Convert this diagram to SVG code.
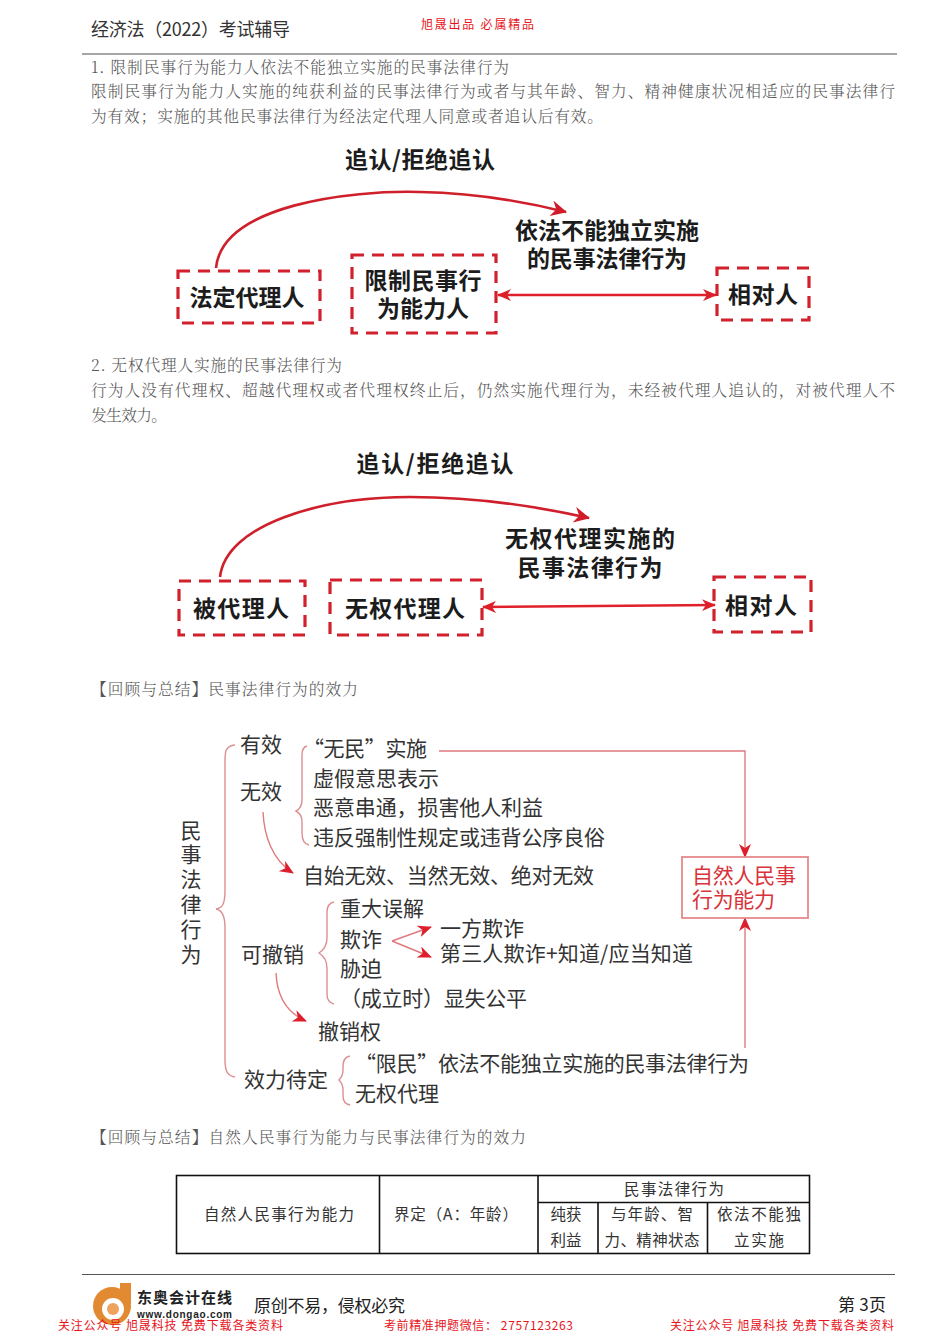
<svg xmlns="http://www.w3.org/2000/svg" width="950" height="1344" viewBox="0 0 950 1344">
<style>
text{font-family:"Noto Sans CJK SC","Liberation Sans",sans-serif;fill:#222}
.body{font-family:"Noto Serif CJK SC","Noto Sans CJK SC",serif;font-size:15.7px;fill:#555;font-weight:300}
.d{font-size:23px;font-weight:700;fill:#1c1c1c;text-anchor:middle}
.dash{fill:none;stroke:#d2202c;stroke-width:3.2;stroke-dasharray:12 8}
.cv{fill:none;stroke:#cf1f2a;stroke-width:2.6}
.dbl{fill:none;stroke:#e0202a;stroke-width:2.4}
.m{font-size:21px;fill:#333}
.br{fill:none;stroke:#dc8f90;stroke-width:1.4}
.ln{fill:none;stroke:#e07a7d;stroke-width:1.4}
.tb{fill:none;stroke:#111;stroke-width:1.6}
.t{font-size:15.500px;fill:#333;text-anchor:middle}
.red{font-size:12px;fill:#e8141c}
</style>
<defs>
<marker id="a" markerWidth="16" markerHeight="14" refX="13" refY="6" orient="auto" markerUnits="userSpaceOnUse"><path d="M0 0L14 6L0 12L4 6Z" fill="#dc1f2a"/></marker>
<marker id="as" markerWidth="16" markerHeight="14" refX="1" refY="6" orient="auto" markerUnits="userSpaceOnUse"><path d="M14 0L0 6L14 12L10 6Z" fill="#dc1f2a"/></marker>
<marker id="big" markerWidth="20" markerHeight="20" refX="15" refY="8" orient="auto" markerUnits="userSpaceOnUse"><path d="M0 0L16 8L0 16L5 8Z" fill="#d01c28"/></marker>
</defs>

<g id="header">
<text x="91" y="36" font-size="18" textLength="199" style="fill:#333">经济法（2022）考试辅导</text>
<text x="421" y="29" class="red" textLength="113">旭晟出品  必属精品</text>
<path d="M82 54H897" stroke="#888" stroke-width="1.4"/>
</g>

<g id="text-1">
<text class="body" x="91" y="73" textLength="418">1. 限制民事行为能力人依法不能独立实施的民事法律行为</text>
<text class="body" x="91" y="97" textLength="804">限制民事行为能力人实施的纯获利益的民事法律行为或者与其年龄、智力、精神健康状况相适应的民事法律行</text>
<text class="body" x="91" y="122" textLength="512">为有效；实施的其他民事法律行为经法定代理人同意或者追认后有效。</text>
</g>

<g id="connectors-1">
<path class="cv" d="M216 268C222 205 350 190 420 192C480 193 530 203 566 212" marker-end="url(#big)"/>
<path class="dbl" d="M498 295H716" marker-start="url(#as)" marker-end="url(#a)"/>
</g>
<g id="label-1a"><text class="d" x="420" y="168" textLength="150">追认/拒绝追认</text></g>
<g id="label-1b"><text class="d" x="607" y="239" textLength="184">依法不能独立实施</text><text class="d" x="607" y="267" textLength="160">的民事法律行为</text></g>
<g id="n-fading"><rect class="dash" x="178" y="271" width="142" height="52"/><text class="d" x="247" y="306" textLength="115">法定代理人</text></g>
<g id="n-xianzhi"><rect class="dash" x="352" y="255" width="144" height="78"/><text class="d" x="423" y="289" textLength="117">限制民事行</text><text class="d" x="423" y="317" textLength="92">为能力人</text></g>
<g id="n-xiangdui1"><rect class="dash" x="717" y="268" width="92" height="52"/><text class="d" x="763" y="303" textLength="70">相对人</text></g>

<g id="text-2">
<text class="body" x="91" y="371" textLength="251">2. 无权代理人实施的民事法律行为</text>
<text class="body" x="91" y="396" textLength="804">行为人没有代理权、超越代理权或者代理权终止后，仍然实施代理行为，未经被代理人追认的，对被代理人不</text>
<text class="body" x="91" y="421" textLength="76">发生效力。</text>
</g>

<g id="connectors-2">
<path class="cv" d="M220 577C226 525 320 497 410 497C480 497 540 507 589 518" marker-end="url(#big)"/>
<path class="dbl" d="M483 607L715 605" marker-start="url(#as)" marker-end="url(#a)"/>
</g>
<g id="label-2a"><text class="d" x="435" y="472" textLength="157">追认/拒绝追认</text></g>
<g id="label-2b"><text class="d" x="590" y="547" textLength="170">无权代理实施的</text><text class="d" x="590" y="576" textLength="145">民事法律行为</text></g>
<g id="n-bei"><rect class="dash" x="179" y="581" width="126" height="54"/><text class="d" x="241" y="617" textLength="96">被代理人</text></g>
<g id="n-wuquan"><rect class="dash" x="330" y="580" width="152" height="55"/><text class="d" x="405" y="617" textLength="120">无权代理人</text></g>
<g id="n-xiangdui2"><rect class="dash" x="714" y="577" width="97" height="55"/><text class="d" x="761" y="614" textLength="72">相对人</text></g>

<g id="text-3"><text class="body" x="91" y="695" textLength="267">【回顾与总结】民事法律行为的效力</text></g>

<g id="summary-brackets">
<path class="br" d="M235 745C225 746 225 752 225 762V890C225 905 222 908 216 909C222 910 225 915 225 928V1060C225 1072 228 1076 235 1077"/>
<path class="br" d="M307 746C303 747 302 750 302 755V800C302 806 300 809 296 811C300 813 302 816 302 822V833C302 840 304 844 309 845"/>
<path class="br" d="M334 902C329 903 327 906 327 912V938C327 945 325 949 319 953C325 957 327 961 327 968V994C327 1000 329 1003 334 1004"/>
<path class="br" d="M350 1056C345 1057 343 1060 343 1066V1070C343 1075 341 1078 339 1080C341 1082 343 1085 343 1090V1096C343 1101 345 1104 350 1105"/>
</g>
<g id="summary-connectors">
<path class="ln" d="M263 812C264 835 272 860 293 873" marker-end="url(#a)"/>
<path class="ln" d="M276 973C277 995 285 1012 306 1021" marker-end="url(#a)"/>
<path class="ln" d="M392 941L431 927" marker-end="url(#a)"/>
<path class="ln" d="M392 941L431 957" marker-end="url(#a)"/>
<path class="ln" d="M439 751H745V857" marker-end="url(#a)"/>
<path class="ln" d="M745 1048V918" marker-end="url(#a)"/>
</g>
<g id="s-root" text-anchor="middle">
<text x="191" y="838" class="m">民</text><text x="191" y="862" class="m">事</text><text x="191" y="887" class="m">法</text><text x="191" y="912" class="m">律</text><text x="191" y="937" class="m">行</text><text x="191" y="962" class="m">为</text>
</g>
<g id="s-youxiao"><text class="m" x="240" y="752">有效</text></g>
<g id="s-wuxiao"><text class="m" x="240" y="799">无效</text></g>
<g id="s-invalid-list">
<text class="m" x="303" y="756" textLength="124">“无民”实施</text>
<text class="m" x="313" y="786" textLength="126">虚假意思表示</text>
<text class="m" x="313" y="815" textLength="230">恶意串通，损害他人利益</text>
<text class="m" x="313" y="845" textLength="292">违反强制性规定或违背公序良俗</text>
</g>
<g id="s-void"><text class="m" x="303" y="883" textLength="291">自始无效、当然无效、绝对无效</text></g>
<g id="s-kechexiao"><text class="m" x="241" y="962" textLength="63">可撤销</text></g>
<g id="s-revocable-list">
<text class="m" x="340" y="916" textLength="84">重大误解</text>
<text class="m" x="340" y="947" textLength="42">欺诈</text>
<text class="m" x="340" y="976" textLength="42">胁迫</text>
<text class="m" x="340" y="1006" textLength="187">（成立时）显失公平</text>
<text class="m" x="440" y="936" textLength="84">一方欺诈</text>
<text class="m" x="440" y="961" textLength="253">第三人欺诈+知道/应当知道</text>
</g>
<g id="s-cxq"><text class="m" x="318" y="1039" textLength="63">撤销权</text></g>
<g id="s-pending"><text class="m" x="244" y="1087" textLength="84">效力待定</text></g>
<g id="s-pending-list">
<text class="m" x="355" y="1071" textLength="394">“限民”依法不能独立实施的民事法律行为</text>
<text class="m" x="355" y="1101" textLength="84">无权代理</text>
</g>
<g id="s-capacity">
<rect x="682" y="857" width="126" height="61" fill="none" stroke="#e58a8c" stroke-width="1.8"/>
<text x="692" y="883" font-size="21" style="fill:#d8333a" textLength="104">自然人民事</text>
<text x="692" y="907" font-size="21" style="fill:#d8333a" textLength="83">行为能力</text>
</g>

<g id="text-4"><text class="body" x="91" y="1143" textLength="435">【回顾与总结】自然人民事行为能力与民事法律行为的效力</text></g>

<g id="table">
<rect class="tb" x="176.500" y="1175.500" width="633" height="78"/>
<path class="tb" d="M379.500 1175V1253M538 1175V1253M538 1202.500H810M598 1203V1253M707.500 1203V1253" stroke-width="1.2"/>
<text class="t" x="279" y="1220" textLength="150">自然人民事行为能力</text>
<text class="t" x="456" y="1220" textLength="124">界定（A：年龄）</text>
<text class="t" x="674" y="1195" textLength="100">民事法律行为</text>
<text class="t" x="566" y="1220">纯获</text><text class="t" x="566" y="1246">利益</text>
<text class="t" x="652" y="1220" textLength="82">与年龄、智</text><text class="t" x="652" y="1246" textLength="95">力、精神状态</text>
<text class="t" x="759" y="1220" textLength="84">依法不能独</text><text class="t" x="759" y="1246" textLength="50">立实施</text>
</g>

<g id="footer">
<path d="M82 1274.500H895" stroke="#555" stroke-width="1.2"/>
<g id="logo">
<circle cx="112" cy="1306" r="19" fill="#e28a32"/>
<path d="M120 1283H131V1304H120Z" fill="#e28a32"/>
<circle cx="113" cy="1309" r="11" fill="#fff"/>
<circle cx="113" cy="1309" r="6" fill="#eda35c"/>
<text x="137" y="1303" font-size="15" font-weight="700" textLength="95" style="fill:#222">东奥会计在线</text>
<text x="137" y="1318" font-size="10" font-weight="700" textLength="95" style="font-family:'Liberation Sans',sans-serif;fill:#222">www.dongao.com</text>
</g>
<text x="254" y="1312" font-size="17" textLength="151" style="fill:#222">原创不易，侵权必究</text>
<text x="838" y="1311" font-size="17" textLength="48" style="fill:#222">第 3页</text>
<text class="red" x="58" y="1330" textLength="225">关注公众号 旭晟科技 免费下载各类资料</text>
<text class="red" x="384" y="1330" textLength="189">考前精准押题微信： 2757123263</text>
<text class="red" x="670" y="1330" textLength="224">关注公众号 旭晟科技 免费下载各类资料</text>
</g>
</svg>
